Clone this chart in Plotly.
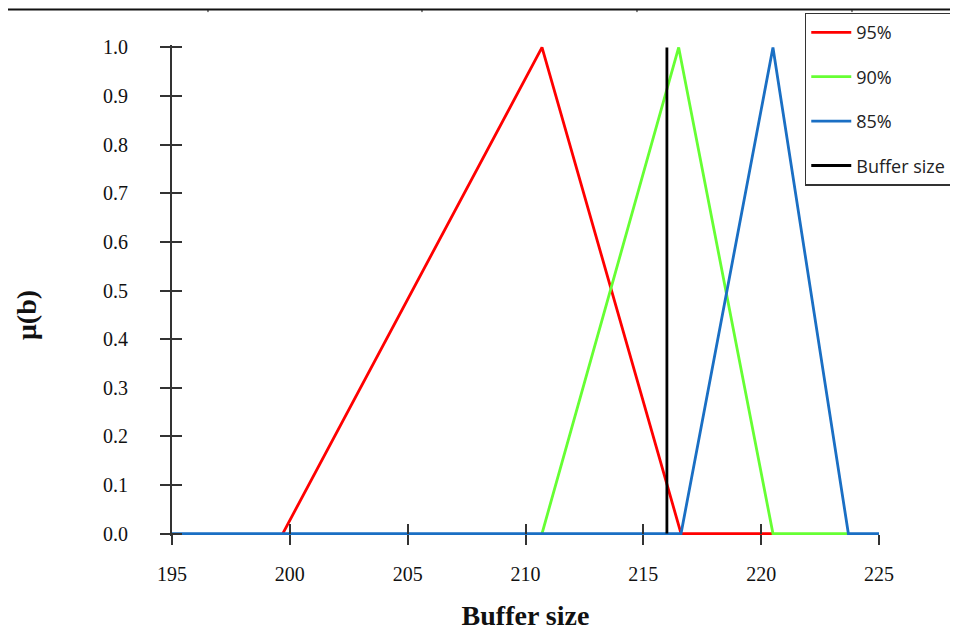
import plotly.graph_objects as go

# Data; hidden zero stretches under the blue line are left out
series_names = ["95%", "90%", "85%"]
series_colors = ["#ff0000", "#66ff33", "#1a6fc4"]
x_95 = [199.7, 210.7, 216.6, 220.5]
y_95 = [0, 1, 0, 0]
x_90 = [210.7, 216.5, 220.5, 223.7]
y_90 = [0, 1, 0, 0]
x_85 = [195, 216.6, 220.5, 223.7, 225]
y_85 = [0, 0, 1, 0, 0]
buffer_x = [216.0, 216.0]
buffer_y = [0, 1]
x_ticks = [195, 200, 205, 210, 215, 220, 225]
y_ticks = [0.0, 0.1, 0.2, 0.3, 0.4, 0.5, 0.6, 0.7, 0.8, 0.9, 1.0]

fig = go.Figure()
for i, (xs, ys) in enumerate([(x_95, y_95), (x_90, y_90), (x_85, y_85)]):
    fig.add_trace(go.Scatter(x=xs, y=ys, mode="lines", name=series_names[i],
                             line=dict(color=series_colors[i], width=2.8),
                             cliponaxis=False, legendgroup=series_names[i]))
fig.add_trace(go.Scatter(x=buffer_x, y=buffer_y, mode="lines", name="Buffer size",
                         line=dict(color="#000000", width=2.8),
                         cliponaxis=False, legendgroup="buf"))
# invisible trace for overlay axes (crossing tick marks)
fig.add_trace(go.Scatter(x=[x_ticks[0]], y=[y_ticks[0]], xaxis="x2", yaxis="y2",
                         mode="markers", marker=dict(opacity=0), showlegend=False,
                         hoverinfo="skip"))

serif = "Liberation Serif, Times New Roman, serif"
tickfont = dict(family=serif, size=20, color="#111")
axis_common = dict(showgrid=False, zeroline=False, linecolor="#333",
                   linewidth=2, tickcolor="#333", tickwidth=2, ticklen=10)
y_range = [-0.005, 1.005]
x_pos = 0.005 / 1.01

fig.update_layout(
    width=950, height=623,
    margin=dict(l=164, r=79, t=37, b=95, autoexpand=False),
    plot_bgcolor="white", paper_bgcolor="white",
    xaxis=dict(range=[195, 225], tickvals=x_ticks, ticks="outside", showline=False,
               layer="below traces", anchor="free", position=x_pos,
               tickfont=tickfont, ticklabelstandoff=12,
               title=dict(text="<b>Buffer size</b>", standoff=29,
                          font=dict(family=serif, size=28, color="#111")),
               **axis_common),
    yaxis=dict(range=y_range, tickvals=y_ticks, tickformat=".1f", ticks="outside",
               showline=True, layer="below traces",
               tickfont=tickfont, ticklabelstandoff=28,
               **axis_common),
    xaxis2=dict(range=[195, 225], tickvals=x_ticks, ticks="inside", overlaying="x",
                side="bottom", showticklabels=False, showline=False,
                anchor="free", position=x_pos, **axis_common),
    yaxis2=dict(range=y_range, tickvals=y_ticks, ticks="inside", overlaying="y",
                side="left", showticklabels=False, showline=False, anchor="x2",
                **axis_common),
    legend=dict(x=0.895, y=1.066, xanchor="left", yanchor="top",
                bordercolor="#333", borderwidth=1.5, bgcolor="white",
                font=dict(family="Open Sans, DejaVu Sans, sans-serif", size=18, color="#222"),
                tracegroupgap=18, itemwidth=40),
    showlegend=True,
    annotations=[
        dict(text="<b>μ(b)</b>", textangle=-90, xref="paper", yref="paper",
             x=-0.2065, y=0.45, showarrow=False, xanchor="center", yanchor="middle",
             font=dict(family=serif, size=28, color="#111")),
    ],
    shapes=[
        dict(type="line", xref="paper", yref="paper", x0=-0.25, x1=1.12,
             y0=1.0725, y1=1.0725, line=dict(color="#111", width=2)),
    ] + [
        dict(type="line", xref="paper", yref="paper", x0=xp, x1=xp,
             y0=1.0725, y1=1.067, line=dict(color="#111", width=1))
        for xp in [0.0509, 0.3536, 0.6577, 0.9618]
    ],
)

fig.write_html("out.html")
